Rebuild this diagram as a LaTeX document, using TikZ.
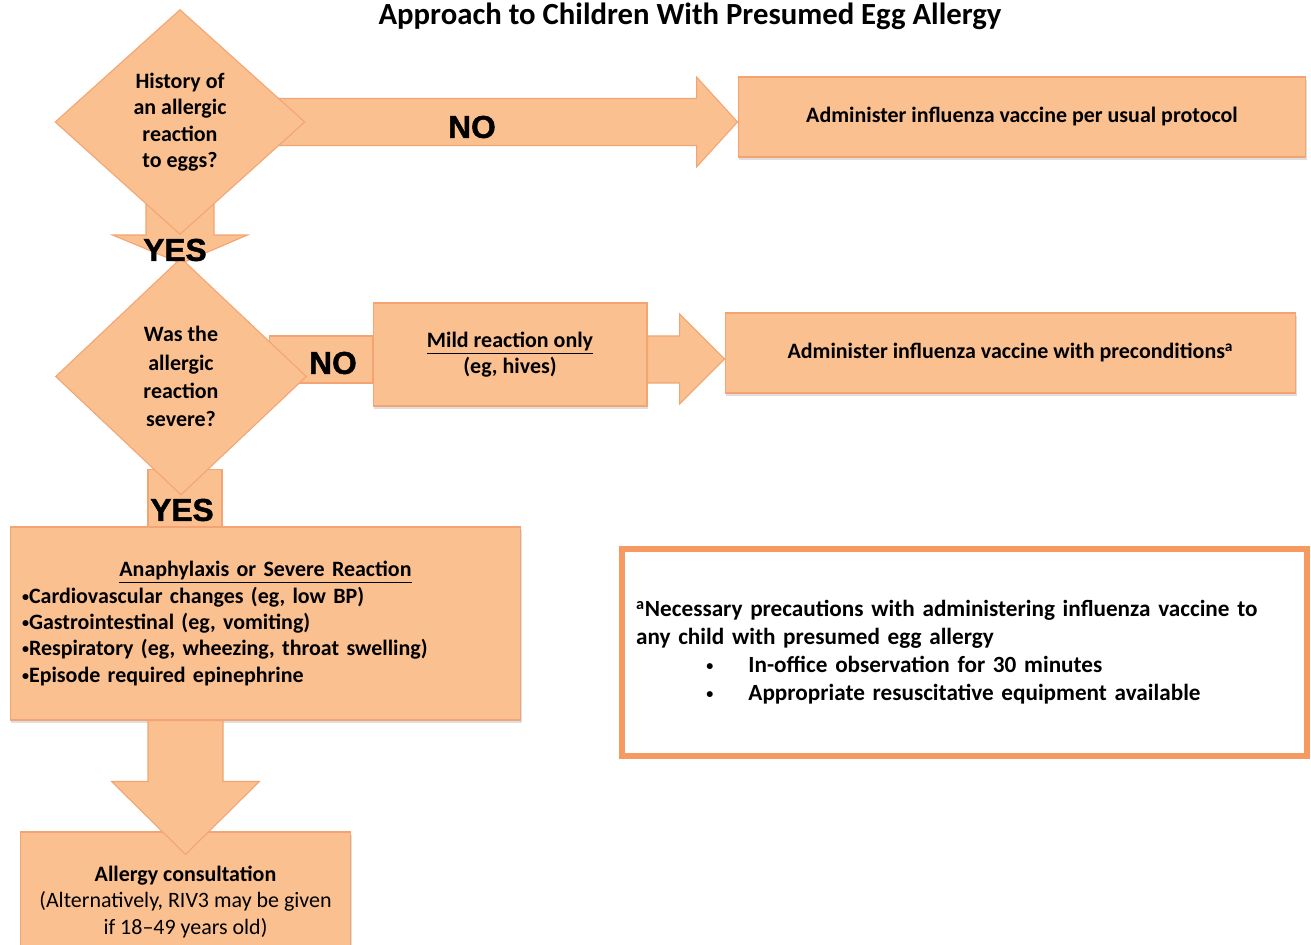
\documentclass[tikz,border=0pt]{standalone}
\usepackage{fontspec}
\setmainfont{Carlito}
\newfontfamily\answerfont[BoldFont={Liberation Sans Bold}, BoldFeatures={FakeBold=1.5}]{Liberation Sans}
\usetikzlibrary{shapes.geometric,calc,backgrounds,shadows}
\definecolor{peach}{HTML}{FAC090}
\definecolor{peachline}{HTML}{F4A472}
\definecolor{noteline}{HTML}{F79A62}
\newcommand\dotmark{\raisebox{0.2ex}{\fontsize{8}{8}\selectfont\textbullet}}
\tikzset{
  decision/.style={diamond, fill=peach, draw=peachline, line width=0.6pt,
    inner sep=0pt, align=center, font=\bfseries\fontsize{12.5}{15}\selectfont},
  action/.style={rectangle, fill=peach, draw=peachline, line width=0.6pt,
    align=center, font=\bfseries\fontsize{12.5}{15}\selectfont,
    drop shadow={opacity=0.25, shadow xshift=0.4pt, shadow yshift=-1.6pt}},
  blockarrow/.style={fill=peach, draw=peachline, line width=0.6pt},
  answer/.style={font=\answerfont\bfseries\fontsize{18}{18}\selectfont},
}
\begin{document}
\begin{tikzpicture}[x=0.02cm, y=-0.02cm]
\useasboundingbox (0,0) rectangle (1311,945);

\node[anchor=base, font=\bfseries\fontsize{17.5}{20}\selectfont] (title) at (690,25)
  {Approach to Children With Presumed Egg Allergy};

% decisions
\node[decision, minimum width=5cm, minimum height=4.5cm] (q1) at (180,122)
  {History of\\an allergic\\reaction\\to eggs?};
\node[decision, minimum width=5.02cm, minimum height=4.74cm,
  font=\bfseries\fontsize{12.5}{16}\selectfont] (q2) at (181,376.5)
  {Was the\\allergic\\reaction\\severe?};

% outcomes
\node[action, minimum width=11.36cm, minimum height=1.6cm] (care1) at (1022,117)
  {Administer influenza vaccine per usual protocol};
\node[action, minimum width=5.48cm, minimum height=2.06cm] (mild) at (510,354.5)
  {\underline{Mild reaction only}\\(eg, hives)};
\node[action, minimum width=11.42cm, minimum height=1.6cm] (care2) at (1010.5,353)
  {Administer influenza vaccine with preconditions\textsuperscript{a}};
\node[action, text width=9.74cm, inner xsep=0.24cm, minimum height=3.86cm, align=left,
  font=\bfseries\fontsize{12.5}{15}\selectfont] (severe) at (265.5,623.5)
  {{\centering\underline{Anaphylaxis or Severe Reaction}\par}
   \dotmark Cardiovascular changes (eg, low BP)\par
   \dotmark Gastrointestinal (eg, vomiting)\par
   \dotmark Respiratory (eg, wheezing, throat swelling)\par
   \dotmark Episode required epinephrine};
\node[action, minimum width=6.62cm, minimum height=2.8cm,
  font=\fontsize{12.5}{15}\selectfont] (allergy) at (185.5,902)
  {\textbf{Allergy consultation}\\(Alternatively, RIV3 may be given\\if 18--49 years old)};

% footnote
\node[rectangle, draw=noteline, line width=3.4pt, fill=white, text width=13.14cm,
  inner xsep=0.28cm, minimum height=4.14cm, align=left,
  font=\bfseries\fontsize{13.2}{16}\selectfont] (note) at (964.5,652.5)
  {\textsuperscript{a}Necessary precautions with administering influenza vaccine to\\
   any child with presumed egg allergy\\
   \hspace*{40pt}\dotmark\hspace{20pt}In-office observation for 30 minutes\\
   \hspace*{40pt}\dotmark\hspace{20pt}Appropriate resuscitative equipment available};

% block arrows
\coordinate (tip1) at (q1.center -| care1.west);
\coordinate (tip2) at ($(care2.west)+(0,6)$);
\coordinate (tip3) at ($(allergy.north)+(0,23)$);
\begin{scope}[on background layer]
  \fill[white] (0,0) rectangle (1311,945);
  \draw[blockarrow] ($(tip1)+(-458,-23.5)$) -- ($(tip1)+(-41,-23.5)$) -- ($(tip1)+(-41,-45)$)
    -- (tip1) -- ($(tip1)+(-41,45)$) -- ($(tip1)+(-41,23.5)$) -- ($(tip1)+(-458,23.5)$) -- cycle;
  \draw[blockarrow] ($(q1.south)+(-34,-45)$) -- ($(q1.south)+(-34,0)$) -- ($(q1.south)+(-67.5,0)$)
    -- ($(q2.north)+(0,6)$) -- ($(q1.south)+(67.5,0)$) -- ($(q1.south)+(34,0)$)
    -- ($(q1.south)+(34,-45)$) -- cycle;
  \draw[blockarrow] ($(mild.west)+(-103,-18.5)$) rectangle ($(mild.west)+(0,28.5)$);
  \draw[blockarrow] ($(mild.east)+(0,-18.5)$) -- ($(tip2)+(-45,-23)$) -- ($(tip2)+(-45,-45)$)
    -- (tip2) -- ($(tip2)+(-45,45)$) -- ($(tip2)+(-45,24)$) -- ($(mild.east)+(0,28.5)$) -- cycle;
  \draw[blockarrow] ($(q2.south |- severe.north)+(-33,-57)$) rectangle ($(q2.south |- severe.north)+(41,0)$);
\end{scope}
\draw[blockarrow] ($(severe.south -| allergy.north)+(-37.5,0)$) -- ($(tip3)+(-37.5,-73)$)
  -- ($(tip3)+(-74,-73)$) -- (tip3) -- ($(tip3)+(74,-73)$) -- ($(tip3)+(37.5,-73)$)
  -- ($(severe.south -| allergy.north)+(37.5,0)$) -- cycle;

% answers
\node[answer] (no1) at (472,127) {NO};
\node[answer] (yes1) at (175,250) {YES};
\node[answer] (no2) at (333,363) {NO};
\node[answer] (yes2) at (182,510) {YES};
\end{tikzpicture}
\end{document}
